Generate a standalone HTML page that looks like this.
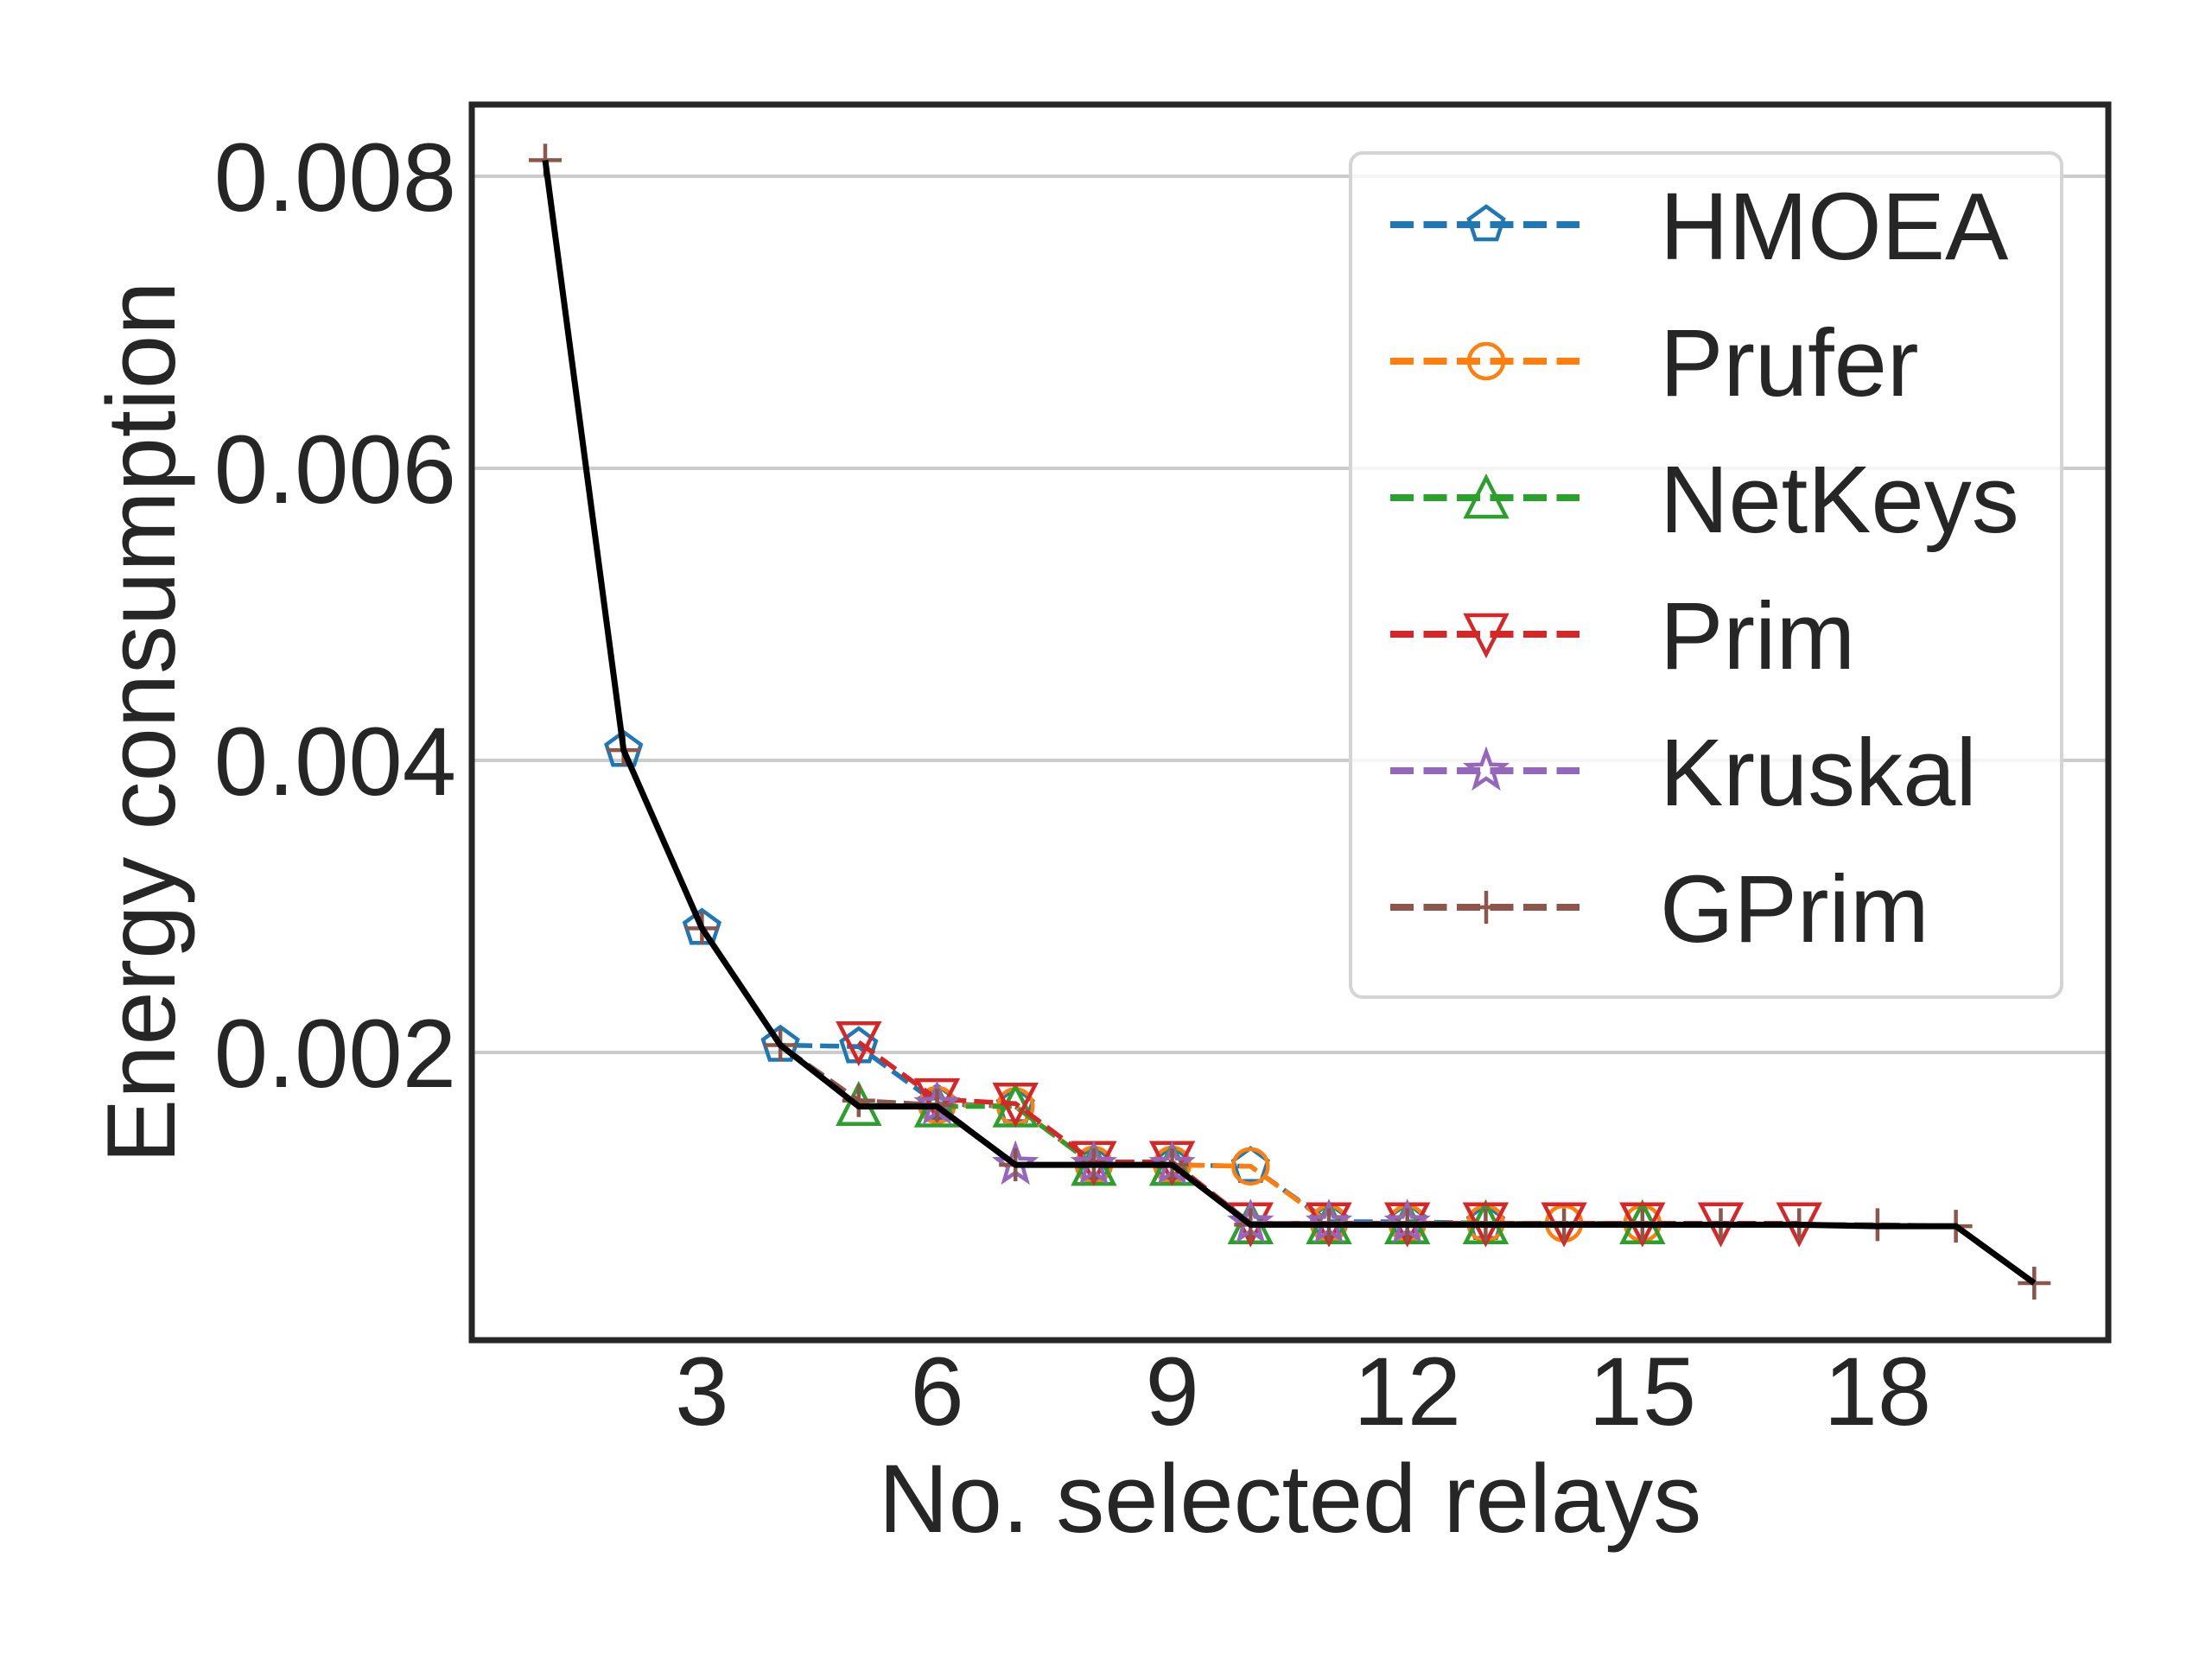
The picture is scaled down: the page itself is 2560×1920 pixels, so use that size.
<!DOCTYPE html>
<html><head><meta charset="utf-8"><style>
html,body{margin:0;padding:0;background:#fff;}
svg{display:block;font-family:"Liberation Sans",Arial,sans-serif;}
</style></head><body>
<svg id="chart" width="2560" height="1920" viewBox="0 0 2560 1920" xmlns="http://www.w3.org/2000/svg">
<rect x="0" y="0" width="2560" height="1920" fill="#fff"/>
<g id="grid"></g>
<g id="series"></g>
<rect x="546" y="121" width="1894" height="1430" fill="none" stroke="#262626" stroke-width="7"/>
<g id="ticks"></g>
<text x="1493" y="1773" font-size="112" fill="#262626" text-anchor="middle">No. selected relays</text>
<text transform="translate(202,836) rotate(-90)" font-size="112" fill="#262626" text-anchor="middle">Energy consumption</text>
<g id="legend"></g>
</svg>
<script>
const xTicks = [3, 6, 9, 12, 15, 18];
const yTicks = [0.002, 0.004, 0.006, 0.008];
const yTickLabels = ["0.002", "0.004", "0.006", "0.008"];
const seriesNames = ["HMOEA", "Prufer", "NetKeys", "Prim", "Kruskal", "GPrim"];
const hmoeaX = [2,3,4,5,6,7,8,9,10,11,12,13];
const hmoeaY = [0.00407,0.00285,0.00205,0.00204,0.00165,0.00163,0.00123,0.00123,0.00122,0.00084,0.00084,0.00083];
const pruferX = [6,7,8,9,10,11,12,13,14,15];
const pruferY = [0.00164,0.00163,0.00123,0.00123,0.00122,0.00083,0.00083,0.00083,0.00083,0.00083];
const netkeysX = [5,6,7,8,9,10,11,12,13,15];
const netkeysY = [0.00164,0.00163,0.00163,0.00123,0.00123,0.00083,0.00083,0.00083,0.00083,0.00083];
const primX = [5,6,7,8,9,10,11,12,13,14,15,16,17];
const primY = [0.00207,0.00168,0.00165,0.00125,0.00125,0.00083,0.00083,0.00083,0.00083,0.00083,0.00083,0.00083,0.00083];
const kruskalX = [6,7,8,9,10,11,12];
const kruskalY = [0.00164,0.00123,0.00123,0.00123,0.00083,0.00083,0.00083];
const gprimX = [1,2,3,4,5,6,7,8,9,10,11,12,13,14,15,16,17,18,19,20];
const gprimY = [0.00811,0.00407,0.00285,0.00205,0.00167,0.00164,0.00123,0.00123,0.00123,0.00082,0.00082,0.00082,0.00082,0.00082,0.00082,0.00082,0.00082,0.00082,0.00081,0.00042];
const bestX = [1,2,3,4,5,6,7,8,9,10,11,12,13,14,15,16,17,18,19,20];
const bestY = [0.00811,0.00407,0.00285,0.00205,0.00163,0.00163,0.00123,0.00123,0.00123,0.00082,0.00082,0.00082,0.00082,0.00082,0.00082,0.00082,0.00082,0.00081,0.00081,0.00042];

const NS = "http://www.w3.org/2000/svg";
function xs(v){ return 631 + (v - 1) * 90.7; }
function ys(v){ return 1556 - v * 169000; }
function mk(tag, attrs, parent){
  const e = document.createElementNS(NS, tag);
  for (const k in attrs) e.setAttribute(k, attrs[k]);
  parent.appendChild(e);
  return e;
}
const gGrid = document.getElementById('grid');
const gTicks = document.getElementById('ticks');
const gSeries = document.getElementById('series');
const gLegend = document.getElementById('legend');

yTicks.forEach((v, i) => {
  const l = mk('line', {x1:546, x2:2440, y1:ys(v), y2:ys(v), stroke:'#cccccc', 'stroke-width':4}, gGrid);
  
  
  const t = mk('text', {x:528, y:ys(v)+40, 'font-size':112, fill:'#262626', 'text-anchor':'end'}, gTicks);
  t.textContent = yTickLabels[i];
  
  
});
xTicks.forEach(v => {
  const t = mk('text', {x:xs(v), y:1649, 'font-size':112, fill:'#262626', 'text-anchor':'middle'}, gTicks);
  t.textContent = String(v);
  
  
});

function markerPath(type, cx, cy){
  const pts = [];
  if (type === 'pent'){
    for (let i=0;i<5;i++){ const a=-Math.PI/2+i*2*Math.PI/5; pts.push([cx+21*Math.cos(a), cy+21*Math.sin(a)]); }
  } else if (type === 'star'){
    for (let i=0;i<10;i++){ const r=i%2?9:22; const a=-Math.PI/2+i*Math.PI/5; pts.push([cx+r*Math.cos(a), cy+r*Math.sin(a)]); }
  } else if (type === 'tup'){
    pts.push([cx,cy-23],[cx+23,cy+22],[cx-23,cy+22]);
  } else if (type === 'tdn'){
    pts.push([cx,cy+23],[cx+23,cy-22],[cx-23,cy-22]);
  }
  return 'M' + pts.map(p => p[0].toFixed(1)+','+p[1].toFixed(1)).join('L') + 'Z';
}
function drawMarker(type, cx, cy, color, parent){
  let e;
  if (type === 'circle'){
    e = mk('circle', {cx:cx, cy:cy, r:20, fill:'none', stroke:color, 'stroke-width':4.5}, parent);
  } else if (type === 'plus'){
    e = mk('path', {d:`M${cx-19},${cy}H${cx+19}M${cx},${cy-19}V${cy+19}`, fill:'none', stroke:color, 'stroke-width':4.5}, parent);
  } else {
    e = mk('path', {d:markerPath(type, cx, cy), fill:'none', stroke:color, 'stroke-width':4.5, 'stroke-linejoin':'miter'}, parent);
  }
  return e;
}

const colors = ['#1f77b4','#ff7f0e','#2ca02c','#d62728','#9467bd','#8c564b'];
const markers = ['pent','circle','tup','tdn','star','plus'];
const allX = [hmoeaX, pruferX, netkeysX, primX, kruskalX, gprimX];
const allY = [hmoeaY, pruferY, netkeysY, primY, kruskalY, gprimY];

allX.forEach((X, s) => {
  const Y = allY[s];
  const g = mk('g', {}, gSeries);
  
  
  const d = X.map((x, i) => (i ? 'L' : 'M') + xs(x).toFixed(1) + ',' + ys(Y[i]).toFixed(1)).join('');
  const p = mk('path', {d:d, fill:'none', stroke:colors[s], 'stroke-width':5.5, 'stroke-dasharray':'22,9'}, g);
  
  
  X.forEach((x, i) => {
    const m = drawMarker(markers[s], xs(x), ys(Y[i]), colors[s], g);
    
    
  });
});
const bd = bestX.map((x, i) => (i ? 'L' : 'M') + xs(x).toFixed(1) + ',' + ys(bestY[i]).toFixed(1)).join('');
const bl = mk('path', {d:bd, fill:'none', stroke:'#000', 'stroke-width':7, 'stroke-linejoin':'round'}, gSeries);



// legend
const box = mk('rect', {x:1563, y:177, width:823, height:977, rx:14, ry:14, fill:'#fff', 'fill-opacity':0.8, stroke:'#d4d4d4', 'stroke-width':4}, gLegend);


seriesNames.forEach((n, i) => {
  const y = 260 + i * 158;
  const g = mk('g', {}, gLegend);
  
  
  mk('line', {x1:1609, x2:1828, y1:y, y2:y, stroke:colors[i], 'stroke-width':8, 'stroke-dasharray':'27,11.5'}, g);
  drawMarker(markers[i], 1720, y, colors[i], g);
  const t = mk('text', {x:1921, y:y+40, 'font-size':110, fill:'#262626'}, g);
  t.textContent = n;
  
  
});
</script>
</body></html>
